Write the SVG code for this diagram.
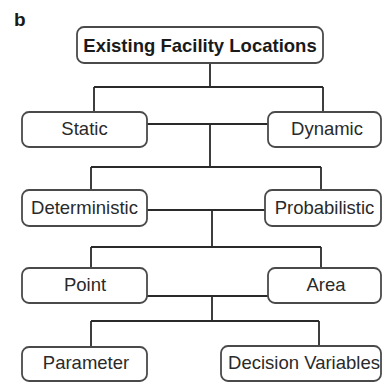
<svg xmlns="http://www.w3.org/2000/svg" width="382" height="383" viewBox="0 0 382 383">
  <style>
    .box { fill: #ffffff; stroke: #4a4a4a; stroke-width: 1.8; }
    .lbl { font-family: "Liberation Sans", Arial, sans-serif; font-size: 18.5px; fill: #2a2a2a; text-anchor: middle; }
    .title { font-weight: bold; fill: #1a1a1a; }
    .wire { fill: none; stroke: #2a2a2a; stroke-width: 1.8; }
  </style>
  <rect width="382" height="383" fill="#ffffff"/>
  <text x="14" y="26" font-family="Liberation Sans, Arial, sans-serif" font-size="19" font-weight="bold" fill="#1a1a1a">b</text>

  <g id="connectors">
    <path class="wire" d="M210 63 V87 M94 87 H323 M94 87 V112 M323 87 V112"/>
    <path class="wire" d="M147 124 H268 M210 124 V167 M91 167 H321 M91 167 V190 M321 167 V190"/>
    <path class="wire" d="M147 210 H265 M212 210 V247 M91 247 H321 M91 247 V268 M321 247 V268"/>
    <path class="wire" d="M147 296 H268 M212 296 V321 M91 321 H319 M91 321 V347 M319 321 V346"/>
  </g>

  <g id="existing">
    <rect class="box" x="77" y="27" width="246" height="36" rx="7"/>
    <text class="lbl title" x="200" y="52">Existing Facility Locations</text>
  </g>
  <g id="static">
    <rect class="box" x="22" y="112" width="125" height="35" rx="7"/>
    <text class="lbl" x="84.5" y="135">Static</text>
  </g>
  <g id="dynamic">
    <rect class="box" x="268" y="112" width="113" height="35" rx="7"/>
    <text class="lbl" x="327" y="135">Dynamic</text>
  </g>
  <g id="deterministic">
    <rect class="box" x="22" y="190" width="125" height="36" rx="7"/>
    <text class="lbl" x="84.5" y="214">Deterministic</text>
  </g>
  <g id="probabilistic">
    <rect class="box" x="265" y="190" width="116" height="36" rx="7"/>
    <text class="lbl" x="324.5" y="214">Probabilistic</text>
  </g>
  <g id="point">
    <rect class="box" x="22" y="268" width="125" height="35" rx="7"/>
    <text class="lbl" x="85" y="291">Point</text>
  </g>
  <g id="area">
    <rect class="box" x="268" y="268" width="113" height="35" rx="7"/>
    <text class="lbl" x="326" y="291">Area</text>
  </g>
  <g id="parameter">
    <rect class="box" x="22" y="347" width="125" height="34" rx="7"/>
    <text class="lbl" x="86" y="369">Parameter</text>
  </g>
  <g id="decision-variables">
    <rect class="box" x="221" y="346" width="160" height="35" rx="7"/>
    <text class="lbl" x="304" y="369">Decision Variables</text>
  </g>
</svg>
